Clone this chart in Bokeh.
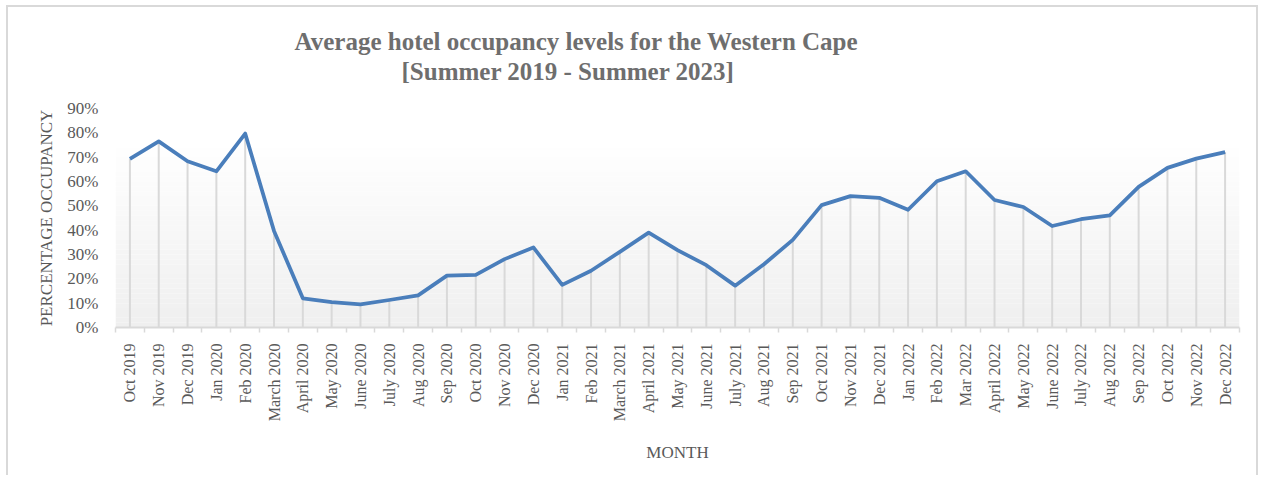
from math import pi
from bokeh.plotting import figure
from bokeh.models import (Range1d, FixedTicker, NumeralTickFormatter, Title, BoxAnnotation,
                          LinearAxis)
from bokeh.embed import file_html
from bokeh.resources import INLINE

months = ["Oct 2019", "Nov 2019", "Dec 2019", "Jan 2020", "Feb 2020", "March 2020",
          "April 2020", "May 2020", "June 2020", "July 2020", "Aug 2020", "Sep 2020",
          "Oct 2020", "Nov 2020", "Dec 2020", "Jan 2021", "Feb 2021", "March 2021",
          "April 2021", "May 2021", "June 2021", "July 2021", "Aug 2021", "Sep 2021",
          "Oct 2021", "Nov 2021", "Dec 2021", "Jan 2022", "Feb 2022", "Mar 2022",
          "April 2022", "May 2022", "June 2022", "July 2022", "Aug 2022", "Sep 2022",
          "Oct 2022", "Nov 2022", "Dec 2022"]
occupancy = [0.693, 0.765, 0.683, 0.642, 0.797, 0.397, 0.120, 0.104, 0.095, 0.113,
             0.132, 0.213, 0.216, 0.281, 0.329, 0.175, 0.233, 0.311, 0.390, 0.318,
             0.256, 0.172, 0.260, 0.360, 0.503, 0.540, 0.533, 0.484, 0.601, 0.642,
             0.524, 0.495, 0.417, 0.445, 0.461, 0.578, 0.656, 0.694, 0.721]
y_ticks = [0.0, 0.1, 0.2, 0.3, 0.4, 0.5, 0.6, 0.7, 0.8, 0.9]
title_line1 = "Average hotel occupancy levels for the Western Cape"
title_line2 = "[Summer 2019 - Summer 2023]"
x_label = "MONTH"
y_label = "PERCENTAGE OCCUPANCY"

FONT = "Liberation Serif"
GREY = "#595959"
TITLE_GREY = "#6e6e6e"
LIGHT = "#d9d9d9"
BLUE = "#4A7EBB"

x_pos = list(range(len(months)))              # category slots
slot_edges = [i - 0.5 for i in range(len(months) + 1)]

p = figure(width=1252, height=470,
           x_range=Range1d(slot_edges[0], slot_edges[-1]), y_range=Range1d(0, y_ticks[-1]),
           output_backend="svg", toolbar_location=None,
           min_border_left=107, min_border_right=21, min_border_top=101, min_border_bottom=150)
p.title.visible = False
p.xgrid.visible = False
p.ygrid.visible = False
p.outline_line_color = None
p.background_fill_color = "white"
p.border_fill_color = "white"
p.styles = {"margin-left": "6px", "margin-top": "5px",
            "border-top": "2px solid #d9d9d9", "border-left": "2px solid #d9d9d9",
            "border-right": "2px solid #d9d9d9"}

# gradient background of the plot area
n_bands = 45
top = y_ticks[-1]
for i in range(n_bands):
    b0 = top * i / n_bands
    b1 = top * (i + 1) / n_bands
    frac = (i + 0.5) / n_bands
    g = int(round(239 + (255 - 239) * min(1.0, frac / 0.85)))
    p.add_layout(BoxAnnotation(bottom=b0, top=b1, fill_color=(g, g, g), fill_alpha=1.0,
                               line_color=None, level="underlay"))

# drop lines and the series
p.segment(x0=x_pos, y0=[0] * len(months), x1=x_pos, y1=occupancy,
          line_color=LIGHT, line_width=2)
p.line(x_pos, occupancy, line_color=BLUE, line_width=3.75, line_join="round")

# y axis
ya = p.yaxis[0]
ya.ticker = FixedTicker(ticks=y_ticks)
ya.formatter = NumeralTickFormatter(format="0%")
ya.axis_line_color = None
ya.major_tick_line_color = None
ya.major_tick_out = 0
ya.minor_tick_line_color = None
ya.major_label_standoff = 17
ya.major_label_text_font = FONT
ya.major_label_text_font_size = "17px"
ya.major_label_text_color = GREY
ya.axis_label = y_label
ya.axis_label_text_font = FONT
ya.axis_label_text_font_size = "17px"
ya.axis_label_text_font_style = "normal"
ya.axis_label_text_color = GREY
ya.axis_label_standoff = 8

# x axis: month labels at slot centres, tick marks between slots
xa = p.xaxis[0]
xa.ticker = FixedTicker(ticks=x_pos, minor_ticks=slot_edges)
xa.major_label_overrides = {i: m for i, m in zip(x_pos, months)}
xa.axis_line_color = LIGHT
xa.axis_line_width = 2
xa.major_tick_line_color = None
xa.major_tick_out = 0
xa.minor_tick_line_color = LIGHT
xa.minor_tick_line_width = 1.5
xa.minor_tick_in = 0
xa.minor_tick_out = 5
xa.major_label_orientation = pi / 2
xa.major_label_standoff = 11
xa.major_label_text_font = FONT
xa.major_label_text_font_size = "16px"
xa.major_label_text_color = GREY
xa.axis_label = x_label
xa.axis_label_text_font = FONT
xa.axis_label_text_font_size = "17px"
xa.axis_label_text_font_style = "normal"
xa.axis_label_text_color = GREY
xa.axis_label_standoff = 19

# empty gap between the plot area and the title: an axis with one invisible tick
spacer = LinearAxis(ticker=FixedTicker(ticks=[x_pos[0]]), axis_line_color=None,
                    major_tick_line_color=None, minor_tick_line_color=None,
                    major_tick_out=24, major_tick_in=0, minor_tick_out=0,
                    major_label_standoff=0, major_label_text_font_size="1px",
                    major_label_overrides={x_pos[0]: ""})
p.add_layout(spacer, "above")

# two-line chart title (inner line added first)
t2 = Title(text=title_line2, align="left", offset=286, text_font=FONT,
           text_font_size="25px", text_font_style="bold", text_color=TITLE_GREY, standoff=0)
p.add_layout(t2, "above")
t1 = Title(text=title_line1, align="left", offset=179, text_font=FONT,
           text_font_size="25px", text_font_style="bold", text_color=TITLE_GREY, standoff=2)
p.add_layout(t1, "above")

open("out.html", "w").write(file_html(p, INLINE))
